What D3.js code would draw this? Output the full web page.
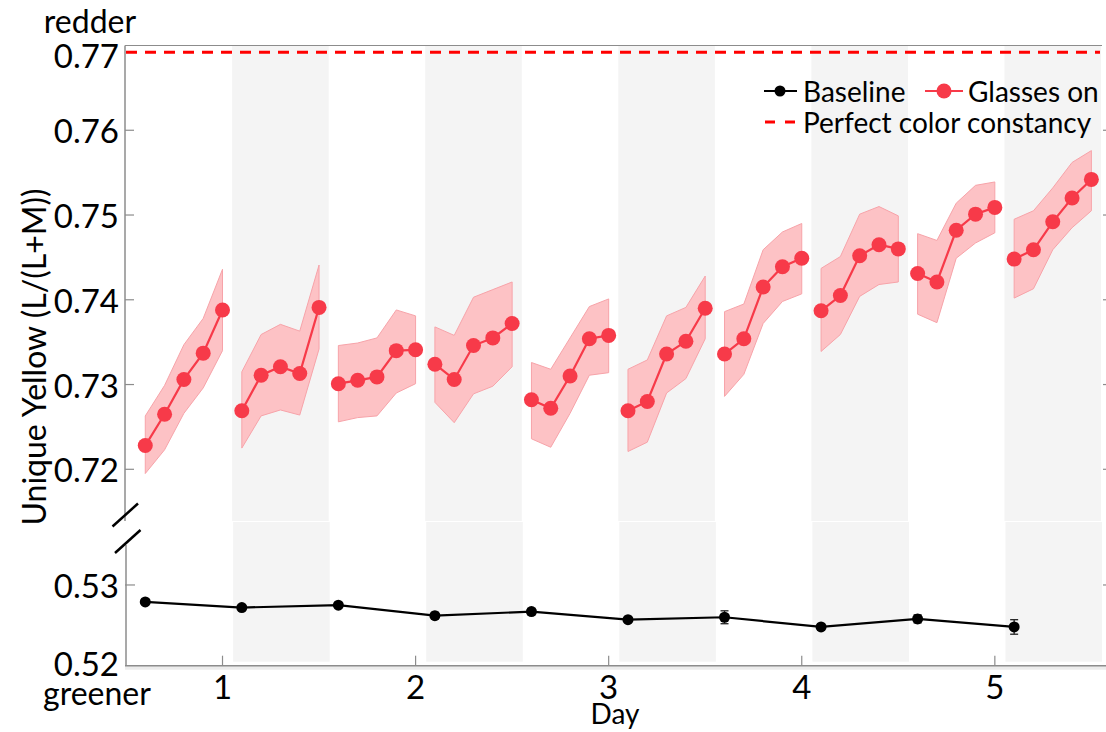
<!DOCTYPE html>
<html>
<head>
<meta charset="utf-8">
<script src="https://cdn.jsdelivr.net/npm/d3@7/dist/d3.min.js"></script>
<style>
  html, body { margin: 0; padding: 0; background: #fff; }
  svg { display: block; font-family: Lato, "Open Sans", sans-serif; }
</style>
</head>
<body>
<svg id="chart" width="1106" height="732"></svg>
<script>
// ---------------- DATA ----------------
const dayTicks = [1, 2, 3, 4, 5];
const upperTicks = [0.72, 0.73, 0.74, 0.75, 0.76, 0.77];
const lowerTicks = [0.52, 0.53];

// Sessions of "Glasses on" (each 5 measurements)
const glassesDays = [
  [0.6, 0.7, 0.8, 0.9, 1.0],
  [1.1, 1.2, 1.3, 1.4, 1.5],
  [1.6, 1.7, 1.8, 1.9, 2.0],
  [2.1, 2.2, 2.3, 2.4, 2.5],
  [2.6, 2.7, 2.8, 2.9, 3.0],
  [3.1, 3.2, 3.3, 3.4, 3.5],
  [3.6, 3.7, 3.8, 3.9, 4.0],
  [4.1, 4.2, 4.3, 4.4, 4.5],
  [4.6, 4.7, 4.8, 4.9, 5.0],
  [5.1, 5.2, 5.3, 5.4, 5.5]
];
const glassesMean = [
  [0.7228, 0.7265, 0.7306, 0.7337, 0.7388],
  [0.7269, 0.7311, 0.7321, 0.7313, 0.7391],
  [0.7301, 0.7305, 0.7309, 0.7340, 0.7341],
  [0.7324, 0.7306, 0.7346, 0.7355, 0.7372],
  [0.7282, 0.7272, 0.7310, 0.7354, 0.7358],
  [0.7269, 0.7280, 0.7336, 0.7351, 0.7390],
  [0.7336, 0.7354, 0.7415, 0.7439, 0.7449],
  [0.7387, 0.7405, 0.7452, 0.7465, 0.7460],
  [0.7431, 0.7421, 0.7482, 0.7501, 0.7509],
  [0.7448, 0.7459, 0.7492, 0.7520, 0.7542]
];
const glassesUpper = [
  [0.7263, 0.7299, 0.7347, 0.7378, 0.7436],
  [0.7315, 0.7359, 0.7371, 0.7363, 0.7441],
  [0.7346, 0.7349, 0.7355, 0.7388, 0.7381],
  [0.7368, 0.7358, 0.7403, 0.7412, 0.7421],
  [0.7326, 0.7318, 0.7355, 0.7392, 0.7401],
  [0.7318, 0.7329, 0.7381, 0.7391, 0.7428],
  [0.7386, 0.7395, 0.7459, 0.7480, 0.7490],
  [0.7437, 0.7451, 0.7501, 0.7510, 0.7499],
  [0.7478, 0.7470, 0.7514, 0.7535, 0.7539],
  [0.7495, 0.7505, 0.7532, 0.7562, 0.7576]
];
const glassesLower = [
  [0.7195, 0.7223, 0.7266, 0.7296, 0.7340],
  [0.7225, 0.7263, 0.7270, 0.7264, 0.7342],
  [0.7256, 0.7261, 0.7263, 0.7290, 0.7301],
  [0.7279, 0.7255, 0.7289, 0.7298, 0.7321],
  [0.7236, 0.7226, 0.7266, 0.7311, 0.7314],
  [0.7221, 0.7232, 0.7290, 0.7307, 0.7354],
  [0.7286, 0.7312, 0.7372, 0.7398, 0.7407],
  [0.7339, 0.7359, 0.7404, 0.7418, 0.7421],
  [0.7383, 0.7373, 0.7449, 0.7467, 0.7479],
  [0.7402, 0.7413, 0.7459, 0.7485, 0.7505]
];

// Baseline
const baselineDays = [0.6, 1.1, 1.6, 2.1, 2.6, 3.1, 3.6, 4.1, 4.6, 5.1];
const baselineMean = [0.5279, 0.5272, 0.5275, 0.5262, 0.5267, 0.5257, 0.5260, 0.5248, 0.5258, 0.5248];
const baselineErr  = [0.0003, 0.0003, 0.0003, 0.0004, 0.0004, 0.0003, 0.0008, 0.0004, 0.0005, 0.0009];

// Shaded "glasses on" periods
const bandStart = [1.05, 2.05, 3.05, 4.05, 5.05];
const bandEnd   = [1.55, 2.55, 3.55, 4.55, 5.55];

const perfectConstancy = 0.7692;

// ---------------- LAYOUT ----------------
const svg = d3.select("#chart");
const X0 = 125, X1 = 1102;
const x = d3.scaleLinear().domain([0.495, 5.555]).range([X0, X1]);
const yU = d3.scaleLinear().domain([0.7139, 0.7700]).range([521, 45.5]);
const yL = d3.scaleLinear().domain([0.5200, 0.5378]).range([665.7, 522]);

const AX = "#8c8c8c";
const RED = "#f73a49";
const FILL = "#fdc2c5";
const EDGE = "#f7a3a9";
const fontTick = 33;
const fontLabel = 32;
const fontLegend = 28;

// bands
bandStart.forEach((s, i) => {
  svg.append("rect").attr("x", x(s)).attr("y", yU.range()[1])
    .attr("width", x(bandEnd[i]) - x(s)).attr("height", yU.range()[0] - yU.range()[1])
    .attr("fill", "#f4f4f4");
  svg.append("rect").attr("x", x(s) + 1).attr("y", yL.range()[1])
    .attr("width", x(bandEnd[i]) - x(s)).attr("height", yL(0.52) - 4 - yL.range()[1])
    .attr("fill", "#f4f4f4");
});

// perfect constancy dashed line
svg.append("line").attr("x1", X0 + 1).attr("x2", X1 - 2)
  .attr("y1", yU(perfectConstancy)).attr("y2", yU(perfectConstancy))
  .attr("stroke", "#ff0000").attr("stroke-width", 3).attr("stroke-dasharray", "11,8");

// frame: top line
svg.append("line").attr("x1", X0).attr("x2", X1).attr("y1", yU.range()[1]).attr("y2", yU.range()[1])
  .attr("stroke", AX).attr("stroke-width", 1.2);
// upper left axis
svg.append("line").attr("x1", X0).attr("x2", X0).attr("y1", yU.range()[1]).attr("y2", 521)
  .attr("stroke", AX).attr("stroke-width", 1.5);
// lower left axis
svg.append("line").attr("x1", X0 + 1).attr("x2", X0 + 1).attr("y1", 545).attr("y2", yL(0.52))
  .attr("stroke", AX).attr("stroke-width", 1.5);
// bottom strip & x-axis line
svg.append("rect").attr("x", X0).attr("y", yL(0.52)).attr("width", 1106 - X0).attr("height", 4)
  .attr("fill", "#ececec");
svg.append("line").attr("x1", X0).attr("x2", 1106).attr("y1", yL(0.52)).attr("y2", yL(0.52))
  .attr("stroke", AX).attr("stroke-width", 1.5);

// break marks
[[0, 0], [2.5, 26.5]].forEach(([dx, dy]) => {
  svg.append("line")
    .attr("x1", X0 - 12.5 + dx).attr("y1", 526.5 + dy)
    .attr("x2", X0 + 13 + dx).attr("y2", 503.5 + dy)
    .attr("stroke", "#000").attr("stroke-width", 2.5);
});

// y ticks upper
upperTicks.forEach(t => {
  const yy = yU(t);
  if (t < 0.77) {
    svg.append("line").attr("x1", X0).attr("x2", X0 + 9).attr("y1", yy).attr("y2", yy).attr("stroke", AX).attr("stroke-width", 1.2);
    svg.append("line").attr("x1", X1 + 1).attr("x2", 1106).attr("y1", yy).attr("y2", yy).attr("stroke", AX).attr("stroke-width", 1.2);
  }
  svg.append("text").attr("x", X0 - 6).attr("y", (t >= 0.77 ? yy + 9 : yy))
    .attr("text-anchor", "end").attr("dominant-baseline", "central")
    .attr("font-size", fontTick).attr("fill", "#000").text(d3.format(".2f")(t));
});
// y ticks lower
lowerTicks.forEach(t => {
  const yy = yL(t);
  if (t > 0.52) {
    svg.append("line").attr("x1", X0).attr("x2", X0 + 10).attr("y1", yy).attr("y2", yy).attr("stroke", AX).attr("stroke-width", 1.2);
    svg.append("line").attr("x1", X1 + 1).attr("x2", 1106).attr("y1", yy).attr("y2", yy).attr("stroke", AX).attr("stroke-width", 1.2);
  }
  svg.append("text").attr("x", X0 - 6).attr("y", (t <= 0.52 ? yy - 3 : yy))
    .attr("text-anchor", "end").attr("dominant-baseline", "central")
    .attr("font-size", fontTick).attr("fill", "#000").text(d3.format(".2f")(t));
});
// x ticks
dayTicks.forEach(d => {
  svg.append("line").attr("x1", x(d)).attr("x2", x(d)).attr("y1", yL(0.52)).attr("y2", yL(0.52) - 10)
    .attr("stroke", AX).attr("stroke-width", 1.2);
  svg.append("text").attr("x", x(d)).attr("y", 699).attr("text-anchor", "middle")
    .attr("font-size", fontTick).attr("fill", "#000").text(d);
});

// axis labels
svg.append("text").attr("x", 90).attr("y", 33).attr("text-anchor", "middle").attr("font-size", fontLabel).text("redder");
svg.append("text").attr("x", 97).attr("y", 705).attr("text-anchor", "middle").attr("font-size", fontLabel).text("greener");
svg.append("text").attr("x", 615).attr("y", 724).attr("text-anchor", "middle").attr("font-size", 28).text("Day");
svg.append("text").attr("transform", "translate(46,357) rotate(-90)").attr("text-anchor", "middle")
  .attr("font-size", fontLabel).text("Unique Yellow (L/(L+M))");

// glasses-on bands, lines, markers
glassesDays.forEach((days, g) => {
  const pts = days.map((d, i) => ({ d, m: glassesMean[g][i], lo: glassesLower[g][i], hi: glassesUpper[g][i] }));
  const area = d3.area().x(p => x(p.d)).y0(p => yU(p.lo)).y1(p => yU(p.hi));
  svg.append("path").attr("d", area(pts)).attr("fill", FILL).attr("stroke", EDGE).attr("stroke-width", 1);
});
glassesDays.forEach((days, g) => {
  const pts = days.map((d, i) => ({ d, m: glassesMean[g][i] }));
  const line = d3.line().x(p => x(p.d)).y(p => yU(p.m));
  svg.append("path").attr("d", line(pts)).attr("fill", "none").attr("stroke", RED).attr("stroke-width", 2.2);
  svg.selectAll(null).data(pts).enter().append("circle")
    .attr("cx", p => x(p.d)).attr("cy", p => yU(p.m)).attr("r", 7.5).attr("fill", RED);
});

// baseline
const bl = baselineDays.map((d, i) => ({ d, m: baselineMean[i], e: baselineErr[i] }));
svg.append("path").attr("d", d3.line().x(p => x(p.d)).y(p => yL(p.m))(bl))
  .attr("fill", "none").attr("stroke", "#000").attr("stroke-width", 2.2);
bl.forEach(p => {
  const cx = x(p.d), t = yL(p.m + p.e), b = yL(p.m - p.e);
  svg.append("line").attr("x1", cx).attr("x2", cx).attr("y1", t).attr("y2", b).attr("stroke", "#222").attr("stroke-width", 1.3);
  [t, b].forEach(yy => svg.append("line").attr("x1", cx - 4).attr("x2", cx + 4).attr("y1", yy).attr("y2", yy).attr("stroke", "#222").attr("stroke-width", 1.3));
});
svg.selectAll(null).data(bl).enter().append("circle")
  .attr("cx", p => x(p.d)).attr("cy", p => yL(p.m)).attr("r", 5.5).attr("fill", "#000");

// legend
const lg = svg.append("g");
lg.append("line").attr("x1", 764).attr("x2", 797).attr("y1", 91).attr("y2", 91).attr("stroke", "#000").attr("stroke-width", 2.2);
lg.append("circle").attr("cx", 780).attr("cy", 91).attr("r", 5.5).attr("fill", "#000");
lg.append("text").attr("x", 803).attr("y", 91).attr("dominant-baseline", "central").attr("font-size", fontLegend).text("Baseline");
lg.append("line").attr("x1", 925).attr("x2", 963).attr("y1", 91).attr("y2", 91).attr("stroke", RED).attr("stroke-width", 2.2);
lg.append("circle").attr("cx", 944).attr("cy", 91).attr("r", 7.5).attr("fill", RED);
lg.append("text").attr("x", 968).attr("y", 91).attr("dominant-baseline", "central").attr("font-size", fontLegend).text("Glasses on");
lg.append("line").attr("x1", 765).attr("x2", 795).attr("y1", 122).attr("y2", 122).attr("stroke", "#ff0000")
  .attr("stroke-width", 3).attr("stroke-dasharray", "10,10");
lg.append("text").attr("x", 803).attr("y", 122).attr("dominant-baseline", "central").attr("font-size", fontLegend).text("Perfect color constancy");
</script>
</body>
</html>
